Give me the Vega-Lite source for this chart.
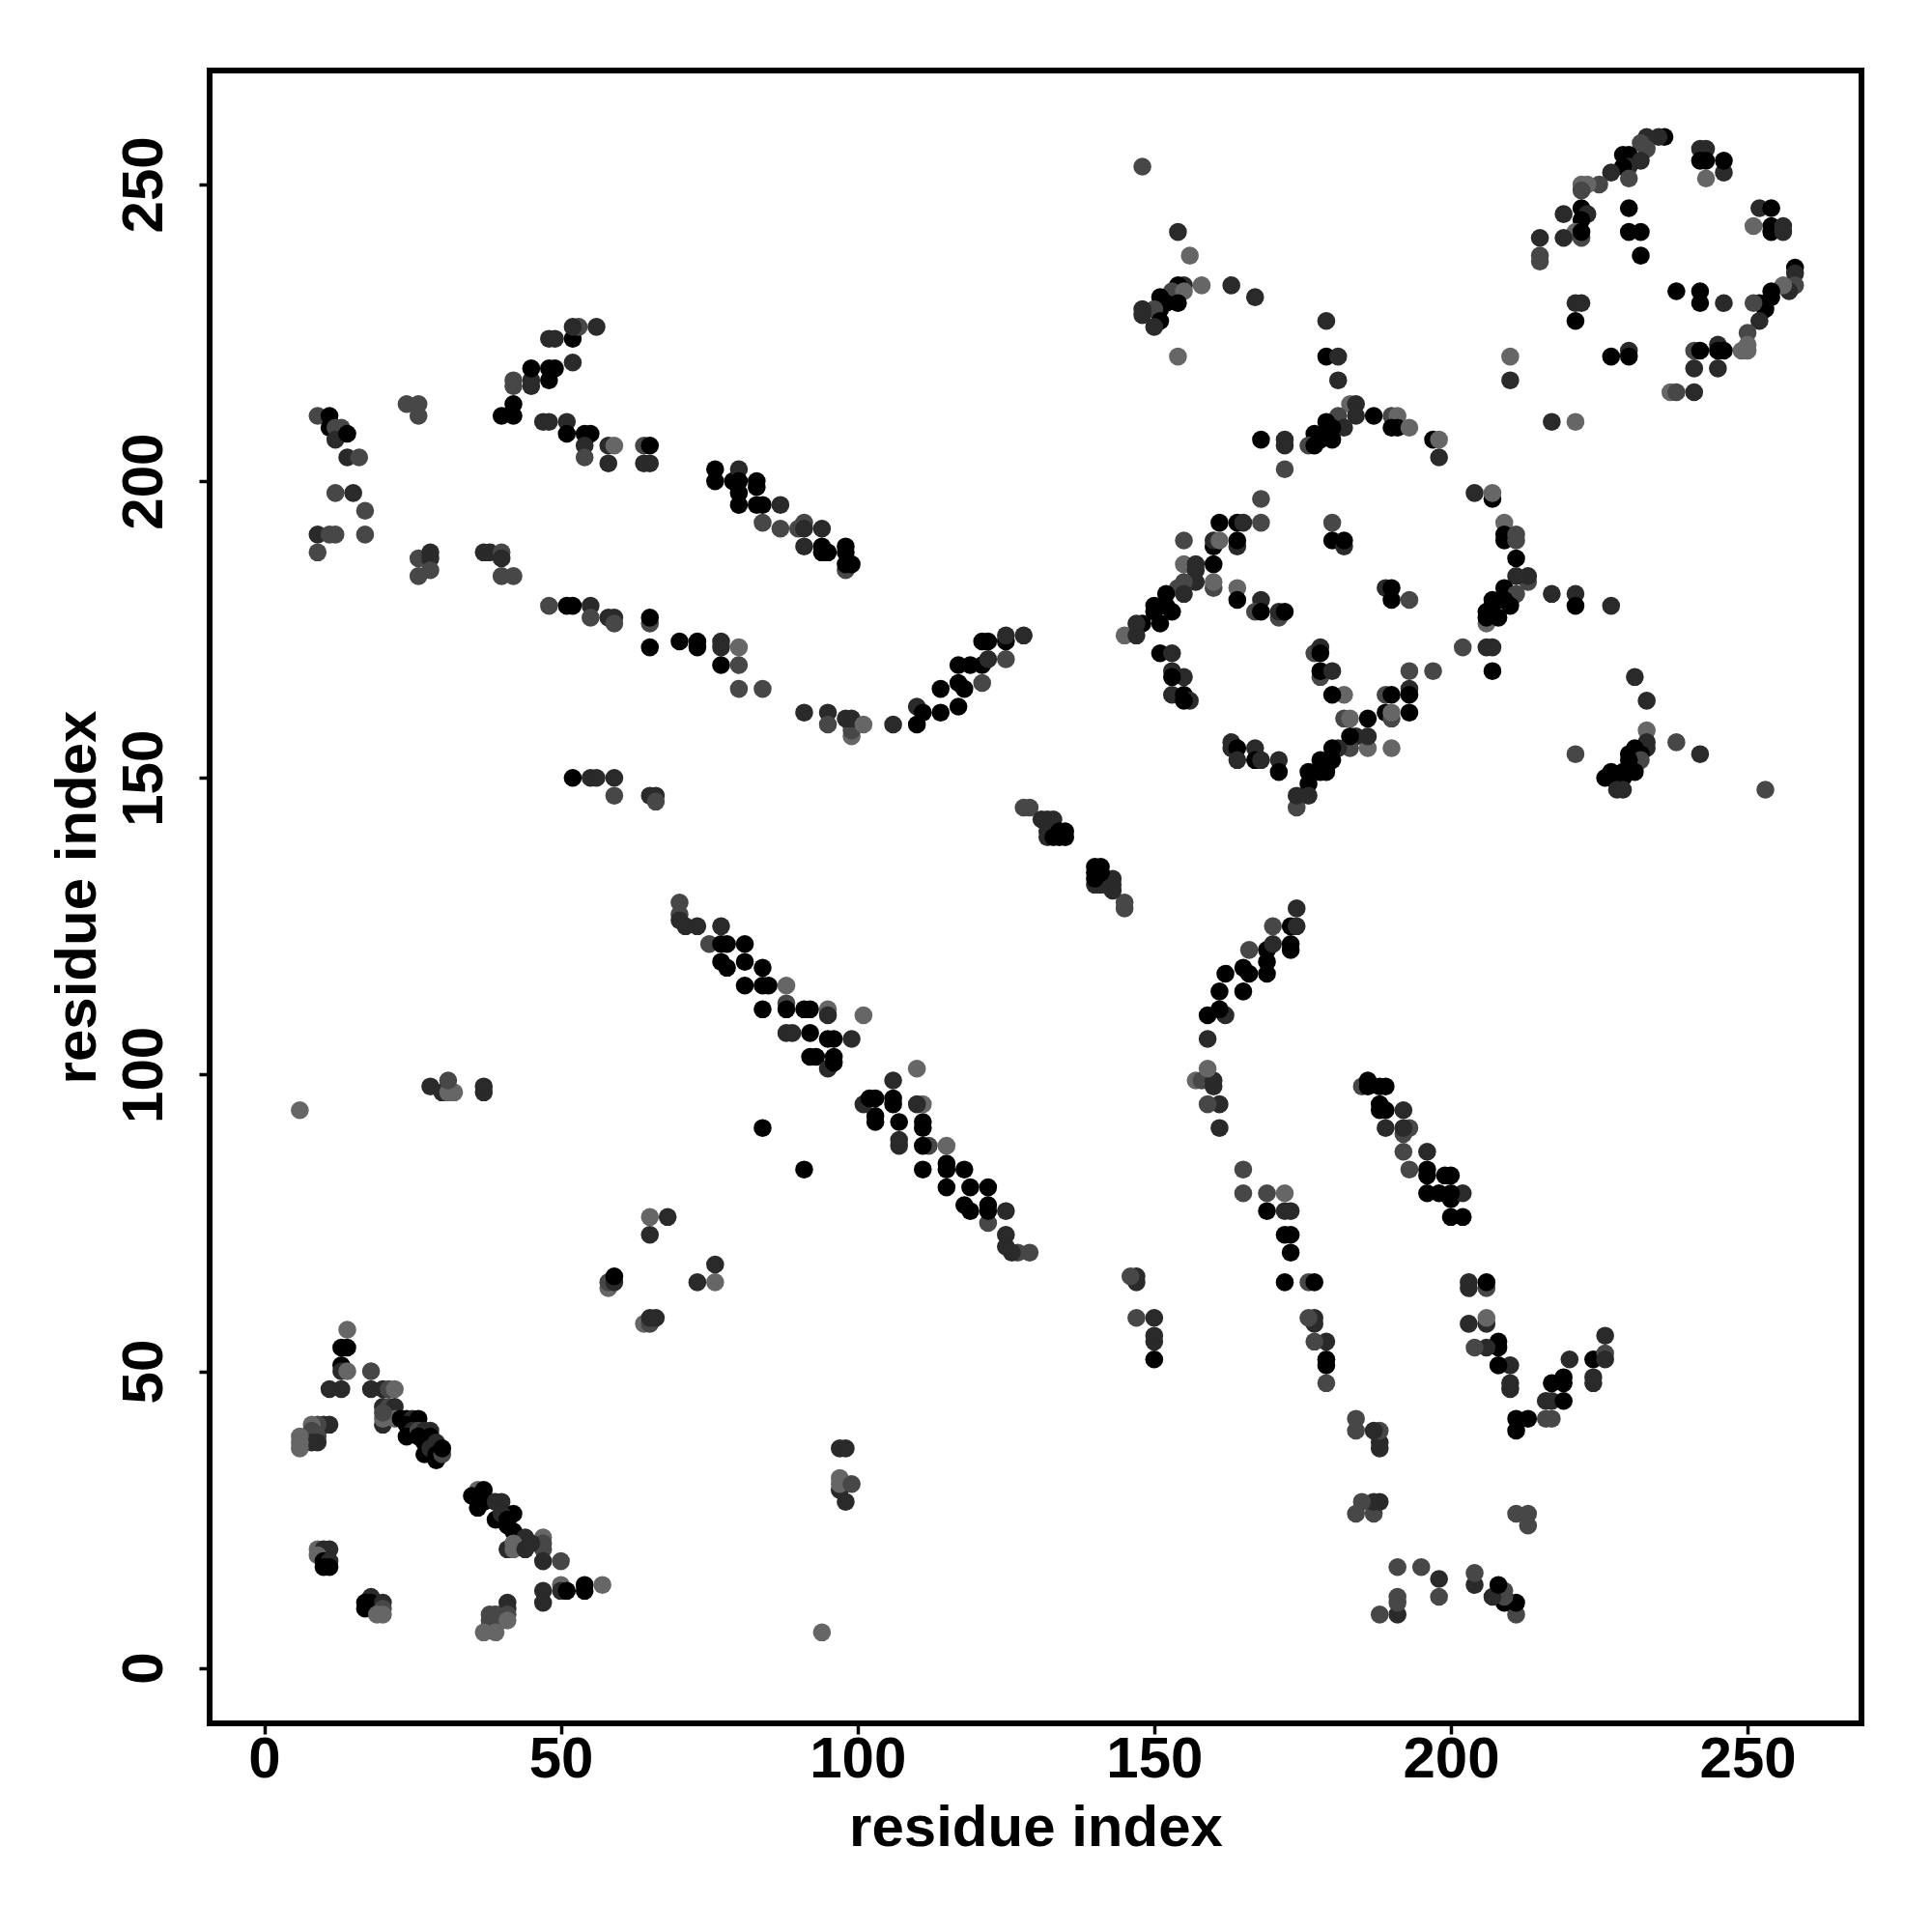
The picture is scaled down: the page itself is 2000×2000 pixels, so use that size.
{"$schema":"https://vega.github.io/schema/vega-lite/v6.json","width":1710,"height":1711,"autosize":{"type":"none"},"padding":{"left":217,"top":73,"right":73,"bottom":216},"background":"white","view":{"stroke":"#000","strokeWidth":6,"fill":"white"},"config":{"font":"Liberation Sans"},"data":{"values":[
{"x":14,"y":57,"p":0},{"x":13,"y":54,"p":1},{"x":14,"y":54,"p":1},{"x":13,"y":51,"p":1},{"x":13,"y":50,"p":0.6},{"x":14,"y":50,"p":0},{"x":11,"y":47,"p":0.6},{"x":13,"y":47,"p":0.6},{"x":18,"y":50,"p":0.3},{"x":18,"y":47,"p":0.6},{"x":20,"y":47,"p":0.6},{"x":21,"y":47,"p":0.3},{"x":22,"y":47,"p":0},{"x":20,"y":44,"p":0.6},{"x":21,"y":44,"p":0.3},{"x":22,"y":44,"p":0.6},{"x":20,"y":41,"p":0.6},{"x":20,"y":42,"p":0},{"x":22,"y":42,"p":0},{"x":20,"y":43,"p":0.3},{"x":23,"y":42,"p":1},{"x":24,"y":42,"p":1},{"x":25,"y":42,"p":0.6},{"x":26,"y":42,"p":1},{"x":24,"y":41,"p":1},{"x":25,"y":40,"p":0.6},{"x":24,"y":39,"p":1},{"x":26,"y":40,"p":0.3},{"x":27,"y":40,"p":0.6},{"x":28,"y":40,"p":0.6},{"x":26,"y":39,"p":1},{"x":27,"y":38,"p":1},{"x":27,"y":36,"p":1},{"x":28,"y":39,"p":1},{"x":28,"y":37,"p":0.6},{"x":29,"y":38,"p":0.6},{"x":29,"y":36,"p":1},{"x":29,"y":35,"p":1},{"x":30,"y":36,"p":0.3},{"x":30,"y":37,"p":1},
{"x":11,"y":41,"p":0.6},{"x":10,"y":41,"p":0.6},{"x":9,"y":41,"p":0.3},{"x":8,"y":41,"p":0},{"x":8,"y":40,"p":0.3},{"x":9,"y":39,"p":0.3},{"x":9,"y":38,"p":0.6},{"x":8,"y":38,"p":0.6},{"x":6,"y":39,"p":0},{"x":6,"y":38,"p":0},{"x":6,"y":37,"p":0},
{"x":36,"y":30,"p":0},{"x":37,"y":30,"p":1},{"x":35,"y":29,"p":1},{"x":36,"y":27,"p":1},{"x":37,"y":28,"p":1},{"x":39,"y":28,"p":0.6},{"x":40,"y":28,"p":0.6},{"x":39,"y":25,"p":1},{"x":42,"y":26,"p":1},{"x":41,"y":24,"p":1},{"x":42,"y":23,"p":1},{"x":40,"y":26,"p":0.6},{"x":41,"y":25,"p":1},{"x":44,"y":22,"p":0.6},{"x":47,"y":22,"p":0},{"x":47,"y":21,"p":0.3},{"x":47,"y":20,"p":0.3},{"x":47,"y":18,"p":0.6},{"x":50,"y":18,"p":0.3},{"x":41,"y":20,"p":0.6},{"x":42,"y":20,"p":0},{"x":42,"y":21,"p":0},{"x":44,"y":20,"p":0.6},{"x":45,"y":21,"p":0.6},{"x":47,"y":13,"p":0.6},{"x":47,"y":11,"p":0.6},{"x":50,"y":14,"p":0},{"x":50,"y":13,"p":0.6},{"x":51,"y":13,"p":1},{"x":54,"y":14,"p":1},{"x":54,"y":13,"p":1},{"x":57,"y":14,"p":0},
{"x":9,"y":20,"p":0},{"x":10,"y":20,"p":0.6},{"x":11,"y":20,"p":0.6},{"x":9,"y":19,"p":0},{"x":10,"y":18,"p":1},{"x":11,"y":18,"p":0.6},{"x":10,"y":17,"p":1},{"x":11,"y":17,"p":1},
{"x":18,"y":12,"p":0.6},{"x":17,"y":11,"p":1},{"x":17,"y":10,"p":1},{"x":18,"y":11,"p":1},{"x":18,"y":10,"p":1},{"x":20,"y":11,"p":0.6},{"x":20,"y":10,"p":0.3},{"x":19,"y":9,"p":0},{"x":20,"y":9,"p":0},
{"x":41,"y":11,"p":0.6},{"x":41,"y":10,"p":0.6},{"x":41,"y":9,"p":0.3},{"x":38,"y":9,"p":0.3},{"x":39,"y":9,"p":0.3},{"x":38,"y":8,"p":0.3},{"x":40,"y":8,"p":0.3},{"x":41,"y":8,"p":0},{"x":38,"y":7,"p":0.3},{"x":39,"y":6,"p":0},{"x":37,"y":6,"p":0},
{"x":64,"y":58,"p":0},{"x":65,"y":58,"p":0.3},{"x":65,"y":59,"p":0.6},{"x":66,"y":59,"p":0.6},{"x":58,"y":64,"p":0},{"x":58,"y":65,"p":0.3},{"x":59,"y":65,"p":0.6},{"x":59,"y":66,"p":1},
{"x":65,"y":76,"p":0},{"x":76,"y":65,"p":0},{"x":68,"y":76,"p":0.6},{"x":76,"y":68,"p":0.6},{"x":65,"y":73,"p":0.6},{"x":73,"y":65,"p":0.6},
{"x":28,"y":98,"p":0.6},{"x":98,"y":28,"p":0.6},{"x":30,"y":97,"p":0.6},{"x":97,"y":30,"p":0.6},{"x":31,"y":97,"p":0},{"x":97,"y":31,"p":0},{"x":32,"y":97,"p":0},{"x":97,"y":32,"p":0},{"x":31,"y":99,"p":0.3},{"x":99,"y":31,"p":0.3},{"x":37,"y":97,"p":0.6},{"x":97,"y":37,"p":0.6},{"x":37,"y":98,"p":0.6},{"x":98,"y":37,"p":0.6},{"x":6,"y":94,"p":0},{"x":94,"y":6,"p":0},{"x":84,"y":91,"p":1},{"x":91,"y":84,"p":1},
{"x":70,"y":129,"p":0.3},{"x":129,"y":70,"p":0.3},{"x":70,"y":127,"p":0.3},{"x":127,"y":70,"p":0.3},{"x":70,"y":126,"p":0.6},{"x":126,"y":70,"p":0.6},{"x":71,"y":125,"p":0.6},{"x":125,"y":71,"p":0.6},{"x":73,"y":125,"p":0.6},{"x":125,"y":73,"p":0.6},{"x":75,"y":122,"p":0.3},{"x":122,"y":75,"p":0.3},{"x":77,"y":125,"p":0.6},{"x":125,"y":77,"p":0.6},{"x":77,"y":122,"p":1},{"x":122,"y":77,"p":1},{"x":78,"y":122,"p":1},{"x":122,"y":78,"p":1},{"x":81,"y":122,"p":1},{"x":122,"y":81,"p":1},{"x":77,"y":119,"p":1},{"x":119,"y":77,"p":1},{"x":78,"y":118,"p":1},{"x":118,"y":78,"p":1},{"x":81,"y":119,"p":1},{"x":119,"y":81,"p":1},{"x":84,"y":118,"p":1},{"x":118,"y":84,"p":1},{"x":81,"y":115,"p":1},{"x":115,"y":81,"p":1},{"x":84,"y":115,"p":1},{"x":115,"y":84,"p":1},{"x":85,"y":115,"p":1},{"x":115,"y":85,"p":1},{"x":84,"y":111,"p":1},{"x":111,"y":84,"p":1},{"x":88,"y":115,"p":0},{"x":115,"y":88,"p":0},{"x":88,"y":112,"p":0.3},{"x":112,"y":88,"p":0.3},{"x":88,"y":111,"p":1},{"x":111,"y":88,"p":1},{"x":91,"y":111,"p":1},{"x":111,"y":91,"p":1},{"x":92,"y":111,"p":1},{"x":111,"y":92,"p":1},{"x":95,"y":111,"p":0},{"x":111,"y":95,"p":0},{"x":95,"y":110,"p":0.6},{"x":110,"y":95,"p":0.6},{"x":101,"y":110,"p":0},{"x":110,"y":101,"p":0},{"x":88,"y":107,"p":0.6},{"x":107,"y":88,"p":0.6},{"x":89,"y":107,"p":0.6},{"x":107,"y":89,"p":0.6},{"x":92,"y":107,"p":1},{"x":107,"y":92,"p":1},{"x":95,"y":106,"p":1},{"x":106,"y":95,"p":1},{"x":96,"y":106,"p":1},{"x":106,"y":96,"p":1},{"x":99,"y":106,"p":0.6},{"x":106,"y":99,"p":0.6},{"x":92,"y":103,"p":1},{"x":103,"y":92,"p":1},{"x":93,"y":103,"p":1},{"x":103,"y":93,"p":1},{"x":96,"y":103,"p":1},{"x":103,"y":96,"p":1},{"x":95,"y":101,"p":0.6},{"x":101,"y":95,"p":0.6},{"x":96,"y":102,"p":1},{"x":102,"y":96,"p":1},
{"x":128,"y":145,"p":0.3},{"x":145,"y":128,"p":0.3},{"x":129,"y":145,"p":0.3},{"x":145,"y":129,"p":0.3},{"x":131,"y":143,"p":0.6},{"x":143,"y":131,"p":0.6},{"x":132,"y":143,"p":0.6},{"x":143,"y":132,"p":0.6},{"x":133,"y":143,"p":0.6},{"x":143,"y":133,"p":0.6},{"x":132,"y":141,"p":0.6},{"x":141,"y":132,"p":0.6},{"x":133,"y":141,"p":0.6},{"x":141,"y":133,"p":0.6},{"x":134,"y":141,"p":1},{"x":141,"y":134,"p":1},{"x":135,"y":141,"p":1},{"x":141,"y":135,"p":1},{"x":132,"y":140,"p":0.6},{"x":140,"y":132,"p":0.6},{"x":133,"y":140,"p":1},{"x":140,"y":133,"p":1},{"x":134,"y":140,"p":1},{"x":140,"y":134,"p":1},{"x":135,"y":140,"p":1},{"x":140,"y":135,"p":1},
{"x":52,"y":150,"p":1},{"x":150,"y":52,"p":1},{"x":55,"y":150,"p":0.6},{"x":150,"y":55,"p":0.6},{"x":56,"y":150,"p":0.6},{"x":150,"y":56,"p":0.6},{"x":59,"y":150,"p":0.6},{"x":150,"y":59,"p":0.6},{"x":59,"y":147,"p":0.3},{"x":147,"y":59,"p":0.3},{"x":65,"y":147,"p":0.6},{"x":147,"y":65,"p":0.6},{"x":66,"y":147,"p":0.6},{"x":147,"y":66,"p":0.6},{"x":66,"y":146,"p":0.3},{"x":146,"y":66,"p":0.3},
{"x":48,"y":179,"p":0.3},{"x":179,"y":48,"p":0.3},{"x":51,"y":179,"p":1},{"x":179,"y":51,"p":1},{"x":52,"y":179,"p":1},{"x":179,"y":52,"p":1},{"x":55,"y":179,"p":0.6},{"x":179,"y":55,"p":0.6},{"x":55,"y":177,"p":0.3},{"x":177,"y":55,"p":0.3},{"x":58,"y":177,"p":0.6},{"x":177,"y":58,"p":0.6},{"x":59,"y":177,"p":0.6},{"x":177,"y":59,"p":0.6},{"x":59,"y":176,"p":0.3},{"x":176,"y":59,"p":0.3},{"x":65,"y":176,"p":0.3},{"x":176,"y":65,"p":0.3},{"x":65,"y":177,"p":1},{"x":177,"y":65,"p":1},{"x":65,"y":172,"p":1},{"x":172,"y":65,"p":1},{"x":70,"y":173,"p":1},{"x":173,"y":70,"p":1},{"x":73,"y":173,"p":1},{"x":173,"y":73,"p":1},{"x":73,"y":172,"p":1},{"x":172,"y":73,"p":1},{"x":77,"y":173,"p":0.6},{"x":173,"y":77,"p":0.6},{"x":77,"y":172,"p":0.6},{"x":172,"y":77,"p":0.6},{"x":77,"y":169,"p":1},{"x":169,"y":77,"p":1},{"x":80,"y":172,"p":0},{"x":172,"y":80,"p":0},{"x":80,"y":169,"p":0.3},{"x":169,"y":80,"p":0.3},{"x":80,"y":165,"p":0.3},{"x":165,"y":80,"p":0.3},{"x":84,"y":165,"p":0.3},{"x":165,"y":84,"p":0.3},{"x":91,"y":161,"p":0.6},{"x":161,"y":91,"p":0.6},{"x":95,"y":161,"p":0.6},{"x":161,"y":95,"p":0.6},{"x":95,"y":159,"p":0.3},{"x":159,"y":95,"p":0.3},{"x":99,"y":157,"p":0},{"x":157,"y":99,"p":0},{"x":99,"y":158,"p":0.3},{"x":158,"y":99,"p":0.3},{"x":98,"y":160,"p":0.6},{"x":160,"y":98,"p":0.6},{"x":99,"y":160,"p":0.6},{"x":160,"y":99,"p":0.6},{"x":101,"y":159,"p":0},{"x":159,"y":101,"p":0},{"x":106,"y":159,"p":0.6},{"x":159,"y":106,"p":0.6},{"x":110,"y":162,"p":0.6},{"x":162,"y":110,"p":0.6},{"x":110,"y":159,"p":1},{"x":159,"y":110,"p":1},{"x":111,"y":161,"p":1},{"x":161,"y":111,"p":1},{"x":114,"y":165,"p":1},{"x":165,"y":114,"p":1},{"x":114,"y":161,"p":1},{"x":161,"y":114,"p":1},{"x":117,"y":166,"p":1},{"x":166,"y":117,"p":1},{"x":117,"y":162,"p":1},{"x":162,"y":117,"p":1},{"x":117,"y":169,"p":1},{"x":169,"y":117,"p":1},{"x":119,"y":169,"p":1},{"x":169,"y":119,"p":1},{"x":118,"y":165,"p":1},{"x":165,"y":118,"p":1},{"x":121,"y":166,"p":0.3},{"x":166,"y":121,"p":0.3},{"x":121,"y":169,"p":1},{"x":169,"y":121,"p":1},{"x":121,"y":173,"p":1},{"x":173,"y":121,"p":1},{"x":122,"y":173,"p":1},{"x":173,"y":122,"p":1},{"x":125,"y":170,"p":0.3},{"x":170,"y":125,"p":0.3},{"x":122,"y":170,"p":0.6},{"x":170,"y":122,"p":0.6},{"x":125,"y":173,"p":1},{"x":173,"y":125,"p":1},{"x":125,"y":174,"p":0.6},{"x":174,"y":125,"p":0.6},{"x":128,"y":174,"p":0.6},{"x":174,"y":128,"p":0.6},
{"x":76,"y":202,"p":1},{"x":202,"y":76,"p":1},{"x":76,"y":200,"p":1},{"x":200,"y":76,"p":1},{"x":79,"y":200,"p":1},{"x":200,"y":79,"p":1},{"x":80,"y":202,"p":0.6},{"x":202,"y":80,"p":0.6},{"x":80,"y":200,"p":1},{"x":200,"y":80,"p":1},{"x":80,"y":198,"p":1},{"x":198,"y":80,"p":1},{"x":80,"y":196,"p":1},{"x":196,"y":80,"p":1},{"x":83,"y":200,"p":1},{"x":200,"y":83,"p":1},{"x":83,"y":199,"p":1},{"x":199,"y":83,"p":1},{"x":83,"y":196,"p":1},{"x":196,"y":83,"p":1},{"x":84,"y":196,"p":1},{"x":196,"y":84,"p":1},{"x":87,"y":196,"p":0.6},{"x":196,"y":87,"p":0.6},{"x":84,"y":193,"p":0.3},{"x":193,"y":84,"p":0.3},{"x":87,"y":192,"p":0.3},{"x":192,"y":87,"p":0.3},{"x":90,"y":192,"p":0.3},{"x":192,"y":90,"p":0.3},{"x":91,"y":193,"p":0.3},{"x":193,"y":91,"p":0.3},{"x":91,"y":192,"p":0.6},{"x":192,"y":91,"p":0.6},{"x":94,"y":192,"p":0.6},{"x":192,"y":94,"p":0.6},{"x":91,"y":189,"p":0.6},{"x":189,"y":91,"p":0.6},{"x":94,"y":189,"p":1},{"x":189,"y":94,"p":1},{"x":94,"y":188,"p":1},{"x":188,"y":94,"p":1},{"x":95,"y":188,"p":1},{"x":188,"y":95,"p":1},{"x":98,"y":185,"p":0.3},{"x":185,"y":98,"p":0.3},{"x":98,"y":189,"p":1},{"x":189,"y":98,"p":1},{"x":98,"y":188,"p":1},{"x":188,"y":98,"p":1},{"x":98,"y":186,"p":1},{"x":186,"y":98,"p":1},{"x":99,"y":186,"p":1},{"x":186,"y":99,"p":1},
{"x":40,"y":211,"p":1},{"x":211,"y":40,"p":1},{"x":42,"y":211,"p":1},{"x":211,"y":42,"p":1},{"x":42,"y":213,"p":1},{"x":213,"y":42,"p":1},{"x":42,"y":216,"p":0.3},{"x":216,"y":42,"p":0.3},{"x":45,"y":216,"p":0.6},{"x":216,"y":45,"p":0.6},{"x":42,"y":217,"p":0.3},{"x":217,"y":42,"p":0.3},{"x":45,"y":217,"p":0.6},{"x":217,"y":45,"p":0.6},{"x":48,"y":217,"p":1},{"x":217,"y":48,"p":1},{"x":45,"y":219,"p":1},{"x":219,"y":45,"p":1},{"x":48,"y":219,"p":1},{"x":219,"y":48,"p":1},{"x":49,"y":219,"p":1},{"x":219,"y":49,"p":1},{"x":48,"y":224,"p":0.6},{"x":224,"y":48,"p":0.6},{"x":49,"y":224,"p":0.6},{"x":224,"y":49,"p":0.6},{"x":52,"y":220,"p":0.6},{"x":220,"y":52,"p":0.6},{"x":52,"y":224,"p":1},{"x":224,"y":52,"p":1},{"x":53,"y":226,"p":0.3},{"x":226,"y":53,"p":0.3},{"x":52,"y":226,"p":0.6},{"x":226,"y":52,"p":0.6},{"x":56,"y":226,"p":0.6},{"x":226,"y":56,"p":0.6},{"x":47,"y":210,"p":0.6},{"x":210,"y":47,"p":0.6},{"x":48,"y":210,"p":0.6},{"x":210,"y":48,"p":0.6},{"x":51,"y":210,"p":0.6},{"x":210,"y":51,"p":0.6},{"x":51,"y":208,"p":1},{"x":208,"y":51,"p":1},{"x":54,"y":208,"p":1},{"x":208,"y":54,"p":1},{"x":55,"y":208,"p":1},{"x":208,"y":55,"p":1},{"x":54,"y":206,"p":0.6},{"x":206,"y":54,"p":0.6},{"x":58,"y":206,"p":0.6},{"x":206,"y":58,"p":0.6},{"x":59,"y":206,"p":0},{"x":206,"y":59,"p":0},{"x":54,"y":204,"p":0.3},{"x":204,"y":54,"p":0.3},{"x":58,"y":203,"p":0.6},{"x":203,"y":58,"p":0.6},{"x":64,"y":206,"p":0.3},{"x":206,"y":64,"p":0.3},{"x":65,"y":206,"p":1},{"x":206,"y":65,"p":1},{"x":64,"y":203,"p":0.6},{"x":203,"y":64,"p":0.6},{"x":65,"y":203,"p":0.6},{"x":203,"y":65,"p":0.6},
{"x":9,"y":211,"p":0.3},{"x":211,"y":9,"p":0.3},{"x":11,"y":211,"p":1},{"x":211,"y":11,"p":1},{"x":11,"y":209,"p":1},{"x":209,"y":11,"p":1},{"x":12,"y":209,"p":0.3},{"x":209,"y":12,"p":0.3},{"x":13,"y":209,"p":0.3},{"x":209,"y":13,"p":0.3},{"x":12,"y":207,"p":0.6},{"x":207,"y":12,"p":0.6},{"x":14,"y":208,"p":1},{"x":208,"y":14,"p":1},{"x":14,"y":204,"p":0.6},{"x":204,"y":14,"p":0.6},{"x":16,"y":204,"p":0.3},{"x":204,"y":16,"p":0.3},{"x":12,"y":198,"p":0.3},{"x":198,"y":12,"p":0.3},{"x":15,"y":198,"p":0.6},{"x":198,"y":15,"p":0.6},{"x":17,"y":195,"p":0.3},{"x":195,"y":17,"p":0.3},{"x":9,"y":191,"p":0.6},{"x":191,"y":9,"p":0.6},{"x":11,"y":191,"p":0.3},{"x":191,"y":11,"p":0.3},{"x":12,"y":191,"p":0.3},{"x":191,"y":12,"p":0.3},{"x":17,"y":191,"p":0.3},{"x":191,"y":17,"p":0.3},{"x":9,"y":188,"p":0.3},{"x":188,"y":9,"p":0.3},
{"x":24,"y":213,"p":0.3},{"x":213,"y":24,"p":0.3},{"x":26,"y":213,"p":0.3},{"x":213,"y":26,"p":0.3},{"x":26,"y":211,"p":0.3},{"x":211,"y":26,"p":0.3},{"x":26,"y":187,"p":0.3},{"x":187,"y":26,"p":0.3},{"x":28,"y":188,"p":0.6},{"x":188,"y":28,"p":0.6},{"x":28,"y":187,"p":0.6},{"x":187,"y":28,"p":0.6},{"x":28,"y":185,"p":0.3},{"x":185,"y":28,"p":0.3},{"x":26,"y":184,"p":0.3},{"x":184,"y":26,"p":0.3},{"x":37,"y":188,"p":0.6},{"x":188,"y":37,"p":0.6},{"x":38,"y":188,"p":0.6},{"x":188,"y":38,"p":0.6},{"x":40,"y":188,"p":0.3},{"x":188,"y":40,"p":0.3},{"x":40,"y":187,"p":0.6},{"x":187,"y":40,"p":0.6},{"x":40,"y":184,"p":0.3},{"x":184,"y":40,"p":0.3},{"x":42,"y":184,"p":0.3},{"x":184,"y":42,"p":0.3},
{"x":236,"y":258,"p":1},{"x":235,"y":258,"p":0.6},{"x":233,"y":258,"p":0.6},{"x":232,"y":257,"p":0.3},{"x":233,"y":256,"p":0.3},{"x":229,"y":255,"p":1},{"x":230,"y":255,"p":1},{"x":232,"y":254,"p":0.6},{"x":230,"y":253,"p":0.6},{"x":229,"y":253,"p":1},{"x":227,"y":252,"p":0.6},{"x":230,"y":251,"p":0.3},{"x":225,"y":250,"p":0.3},{"x":222,"y":250,"p":0},{"x":223,"y":250,"p":0},{"x":222,"y":249,"p":0.3},{"x":242,"y":256,"p":0.6},{"x":243,"y":256,"p":0.6},{"x":242,"y":254,"p":1},{"x":243,"y":254,"p":1},{"x":246,"y":252,"p":0.6},{"x":246,"y":254,"p":1},{"x":243,"y":251,"p":0},{"x":230,"y":246,"p":1},{"x":230,"y":242,"p":1},{"x":232,"y":242,"p":1},{"x":232,"y":238,"p":1},{"x":222,"y":246,"p":1},{"x":223,"y":245,"p":0.6},{"x":219,"y":245,"p":0.6},{"x":222,"y":244,"p":1},{"x":221,"y":242,"p":0},{"x":222,"y":241,"p":0.3},{"x":222,"y":242,"p":1},{"x":219,"y":241,"p":0.6},{"x":215,"y":241,"p":0.6},{"x":215,"y":237,"p":0.3},{"x":215,"y":238,"p":0.3},{"x":252,"y":246,"p":0.6},{"x":254,"y":246,"p":1},{"x":251,"y":243,"p":0},{"x":254,"y":243,"p":1},{"x":254,"y":242,"p":1},{"x":256,"y":243,"p":0.6},{"x":256,"y":242,"p":0.6},{"x":258,"y":236,"p":1},{"x":258,"y":235,"p":0.6},{"x":258,"y":233,"p":0.3},{"x":257,"y":232,"p":0.6},{"x":256,"y":233,"p":0},{"x":254,"y":232,"p":1},{"x":254,"y":231,"p":1},{"x":252,"y":230,"p":1},{"x":253,"y":229,"p":1},{"x":251,"y":230,"p":0.3},{"x":252,"y":227,"p":0.6},{"x":250,"y":225,"p":0.3},{"x":250,"y":223,"p":0},{"x":249,"y":222,"p":0},{"x":250,"y":222,"p":0},{"x":238,"y":232,"p":1},{"x":242,"y":232,"p":1},{"x":242,"y":230,"p":1},{"x":246,"y":230,"p":0.6},{"x":221,"y":230,"p":0.6},{"x":222,"y":230,"p":0.6},{"x":221,"y":227,"p":1},{"x":227,"y":221,"p":1},{"x":230,"y":222,"p":0.6},{"x":230,"y":221,"p":1},{"x":241,"y":222,"p":0.3},{"x":242,"y":222,"p":1},{"x":241,"y":219,"p":0.6},{"x":245,"y":223,"p":0.6},{"x":245,"y":222,"p":1},{"x":246,"y":222,"p":1},{"x":245,"y":219,"p":0.6},{"x":237,"y":215,"p":0},{"x":238,"y":215,"p":0.3},{"x":241,"y":215,"p":0.6},{"x":210,"y":221,"p":0},{"x":210,"y":217,"p":0.6},{"x":217,"y":210,"p":0.6},{"x":221,"y":210,"p":0},
{"x":148,"y":253,"p":0.3},{"x":253,"y":148,"p":0.3},{"x":154,"y":242,"p":0.6},{"x":156,"y":238,"p":0},{"x":158,"y":233,"p":0},{"x":163,"y":233,"p":0.6},{"x":167,"y":231,"p":0.6},{"x":155,"y":233,"p":0.6},{"x":154,"y":233,"p":1},{"x":153,"y":232,"p":0.3},{"x":155,"y":232,"p":0},{"x":154,"y":230,"p":1},{"x":151,"y":231,"p":1},{"x":152,"y":230,"p":1},{"x":151,"y":229,"p":1},{"x":150,"y":229,"p":0.3},{"x":148,"y":229,"p":0.6},{"x":148,"y":228,"p":0.6},{"x":151,"y":227,"p":1},{"x":150,"y":226,"p":0.6},{"x":154,"y":221,"p":0},{"x":179,"y":227,"p":0.6},{"x":179,"y":221,"p":1},{"x":181,"y":221,"p":0.6},{"x":181,"y":217,"p":0.6},{"x":183,"y":213,"p":0},{"x":184,"y":213,"p":0.6},{"x":184,"y":211,"p":0.6},{"x":181,"y":211,"p":0.3},{"x":187,"y":211,"p":1},{"x":190,"y":211,"p":0.3},{"x":191,"y":211,"p":0},{"x":190,"y":209,"p":1},{"x":191,"y":209,"p":1},{"x":193,"y":209,"p":0},{"x":197,"y":207,"p":1},{"x":198,"y":207,"p":0},{"x":198,"y":204,"p":0.6},{"x":182,"y":209,"p":0.6},{"x":180,"y":209,"p":1},{"x":179,"y":210,"p":1},{"x":179,"y":208,"p":1},{"x":177,"y":208,"p":1},{"x":180,"y":207,"p":1},{"x":178,"y":207,"p":1},{"x":176,"y":206,"p":0.3},{"x":177,"y":206,"p":1},{"x":172,"y":207,"p":0.6},{"x":172,"y":206,"p":0.6},{"x":168,"y":207,"p":1},{"x":172,"y":202,"p":0.3},{"x":168,"y":197,"p":0.3},{"x":204,"y":198,"p":0.6},{"x":207,"y":197,"p":1},{"x":207,"y":198,"p":0},{"x":209,"y":193,"p":0},{"x":209,"y":191,"p":1},{"x":209,"y":190,"p":1},{"x":211,"y":191,"p":0.3},{"x":211,"y":190,"p":0.3},{"x":211,"y":187,"p":1},
{"x":168,"y":193,"p":0.3},{"x":164,"y":193,"p":1},{"x":165,"y":193,"p":0.6},{"x":161,"y":193,"p":1},{"x":164,"y":189,"p":0.6},{"x":164,"y":190,"p":1},{"x":160,"y":189,"p":1},{"x":160,"y":190,"p":0.6},{"x":161,"y":190,"p":0},{"x":155,"y":190,"p":0.3},{"x":160,"y":186,"p":1},{"x":155,"y":186,"p":0},{"x":157,"y":186,"p":0.6},{"x":157,"y":185,"p":0.6},{"x":157,"y":183,"p":0.6},{"x":155,"y":183,"p":0.3},{"x":154,"y":182,"p":0.3},{"x":152,"y":181,"p":1},{"x":155,"y":181,"p":0.6},{"x":160,"y":182,"p":0.3},{"x":160,"y":183,"p":0},{"x":164,"y":182,"p":0},{"x":164,"y":180,"p":1},{"x":168,"y":180,"p":0.6},{"x":167,"y":178,"p":0.3},{"x":168,"y":178,"p":1},{"x":171,"y":177,"p":0.3},{"x":171,"y":178,"p":0.6},{"x":172,"y":178,"p":1},{"x":180,"y":193,"p":0.3},{"x":180,"y":190,"p":1},{"x":182,"y":189,"p":0.6},{"x":182,"y":190,"p":1},{"x":189,"y":182,"p":0.6},{"x":190,"y":182,"p":1},{"x":190,"y":180,"p":1},{"x":193,"y":180,"p":0.3},{"x":150,"y":179,"p":1},{"x":152,"y":179,"p":1},{"x":153,"y":178,"p":1},{"x":150,"y":178,"p":1},{"x":151,"y":176,"p":1},{"x":148,"y":176,"p":1},{"x":145,"y":174,"p":0},{"x":147,"y":174,"p":0.6},{"x":147,"y":176,"p":0.6},
{"x":213,"y":183,"p":0.3},{"x":213,"y":184,"p":0.6},{"x":211,"y":184,"p":0.6},{"x":209,"y":182,"p":1},{"x":211,"y":181,"p":0.3},{"x":207,"y":180,"p":1},{"x":209,"y":180,"p":1},{"x":210,"y":179,"p":1},{"x":207,"y":179,"p":1},{"x":206,"y":176,"p":0},{"x":206,"y":178,"p":1},{"x":208,"y":177,"p":1},{"x":206,"y":177,"p":1},{"x":217,"y":181,"p":0.6},{"x":221,"y":181,"p":0.6},{"x":221,"y":179,"p":1},{"x":227,"y":179,"p":0.6},{"x":202,"y":172,"p":0.3},{"x":206,"y":172,"p":0.6},{"x":207,"y":172,"p":0.6},{"x":207,"y":168,"p":1},{"x":197,"y":168,"p":0.3},{"x":193,"y":168,"p":0.3},{"x":193,"y":165,"p":0.6},{"x":193,"y":164,"p":1},{"x":189,"y":164,"p":0.3},{"x":190,"y":164,"p":1},{"x":193,"y":161,"p":1},{"x":189,"y":161,"p":1},{"x":190,"y":160,"p":0.3},{"x":190,"y":161,"p":0},{"x":186,"y":160,"p":1},{"x":182,"y":160,"p":0.3},{"x":183,"y":160,"p":0},{"x":182,"y":164,"p":0},{"x":180,"y":164,"p":1},{"x":190,"y":155,"p":0},{"x":186,"y":155,"p":0},{"x":186,"y":157,"p":0.6},{"x":184,"y":157,"p":0.6},{"x":183,"y":155,"p":0.3},{"x":183,"y":157,"p":1},{"x":181,"y":155,"p":0.6},{"x":180,"y":155,"p":1},{"x":180,"y":153,"p":1},{"x":178,"y":153,"p":1},{"x":178,"y":151,"p":1},{"x":179,"y":151,"p":1},{"x":176,"y":151,"p":1},{"x":176,"y":149,"p":1},{"x":174,"y":145,"p":0.3},{"x":174,"y":147,"p":0.6},{"x":176,"y":147,"p":0.6},
{"x":151,"y":171,"p":1},{"x":153,"y":171,"p":0.6},{"x":153,"y":168,"p":0.6},{"x":155,"y":167,"p":0.6},{"x":153,"y":167,"p":1},{"x":153,"y":164,"p":0.6},{"x":155,"y":164,"p":1},{"x":156,"y":163,"p":0.6},{"x":155,"y":163,"p":1},{"x":177,"y":171,"p":0.3},{"x":178,"y":172,"p":0.6},{"x":178,"y":171,"p":1},{"x":178,"y":167,"p":0.3},{"x":178,"y":168,"p":1},{"x":180,"y":168,"p":0.6},{"x":163,"y":156,"p":0.6},{"x":163,"y":155,"p":0.6},{"x":164,"y":155,"p":1},{"x":164,"y":153,"p":0.6},{"x":167,"y":155,"p":0.6},{"x":167,"y":153,"p":1},{"x":168,"y":153,"p":0.6},{"x":171,"y":153,"p":0.6},{"x":171,"y":151,"p":1},
{"x":231,"y":167,"p":0.6},{"x":233,"y":163,"p":0.6},{"x":233,"y":158,"p":0},{"x":233,"y":156,"p":0.6},{"x":233,"y":155,"p":0.6},{"x":231,"y":155,"p":1},{"x":232,"y":154,"p":1},{"x":230,"y":154,"p":1},{"x":232,"y":153,"p":0.3},{"x":230,"y":153,"p":1},{"x":231,"y":151,"p":1},{"x":229,"y":151,"p":1},{"x":227,"y":151,"p":1},{"x":226,"y":150,"p":1},{"x":227,"y":150,"p":1},{"x":229,"y":150,"p":1},{"x":228,"y":148,"p":0.6},{"x":229,"y":148,"p":0.6},{"x":221,"y":154,"p":0.3},{"x":238,"y":156,"p":0.3},{"x":242,"y":154,"p":0.6}
]},"mark":{"type":"point","filled":true,"shape":"circle","opacity":1,"size":345},"encoding":{"x":{"field":"x","type":"quantitative","scale":{"domain":[-9.2,269.2],"nice":false,"zero":false},"axis":{"values":[0,50,100,150,200,250],"grid":false,"domain":false,"tickSize":11,"tickWidth":3.5,"tickColor":"#000","labelFont":"Liberation Sans","labelFontWeight":"bold","labelFontSize":60,"labelColor":"#000","labelPadding":-3,"title":"residue index","titleFont":"Liberation Sans","titleFontWeight":"bold","titleFontSize":60,"titleColor":"#000","titlePadding":12}},"y":{"field":"y","type":"quantitative","scale":{"domain":[-9.33,269.2],"nice":false,"zero":false},"axis":{"values":[0,50,100,150,200,250],"grid":false,"domain":false,"tickSize":11,"tickWidth":3.5,"tickColor":"#000","labelFont":"Liberation Sans","labelFontWeight":"bold","labelFontSize":60,"labelColor":"#000","labelAngle":270,"labelAlign":"center","labelBaseline":"bottom","labelPadding":26,"title":"residue index","titleFont":"Liberation Sans","titleFontWeight":"bold","titleFontSize":60,"titleColor":"#000","titlePadding":8}},"color":{"field":"p","type":"quantitative","legend":null,"scale":{"domain":[0,1],"range":["#666666","#000000"]}}}}
